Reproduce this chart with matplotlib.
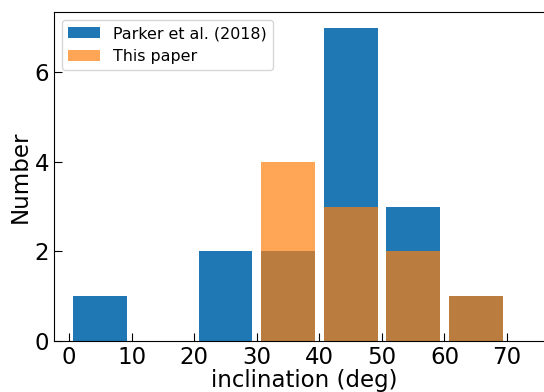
import numpy as np
import matplotlib.pyplot as plt

bin_edges = [0, 10, 20, 30, 40, 50, 60, 70]
parker_counts = [1, 0, 2, 2, 7, 3, 1]
this_paper_counts = [0, 0, 0, 4, 3, 2, 1]

centers = 0.5 * (np.array(bin_edges[:-1]) + np.array(bin_edges[1:]))

fig = plt.figure(figsize=(5.44, 3.92), dpi=100)
ax = fig.add_axes([54 / 544, 51 / 392, 500 / 544, 329 / 392])

ax.hist(centers, bins=bin_edges, weights=parker_counts, rwidth=0.86,
        color="#1f77b4", label="Parker et al. (2018)")
ax.hist(centers, bins=bin_edges, weights=this_paper_counts, rwidth=0.86,
        color="#ff7f0e", alpha=0.7, label="This paper")

ax.set_xlim(-2.4, 77.5)
ax.set_ylim(0, 7.35)
ax.set_xticks(range(0, 80, 10))
ax.set_yticks([0, 2, 4, 6])
ax.tick_params(direction="in", length=6, labelsize=16.5)
ax.set_xlabel("inclination (deg)", fontsize=16.5, labelpad=0)
ax.set_ylabel("Number", fontsize=16.5, labelpad=2)
ax.legend(loc="upper left", fontsize=11.4)

fig.savefig("out.png", dpi=100)
